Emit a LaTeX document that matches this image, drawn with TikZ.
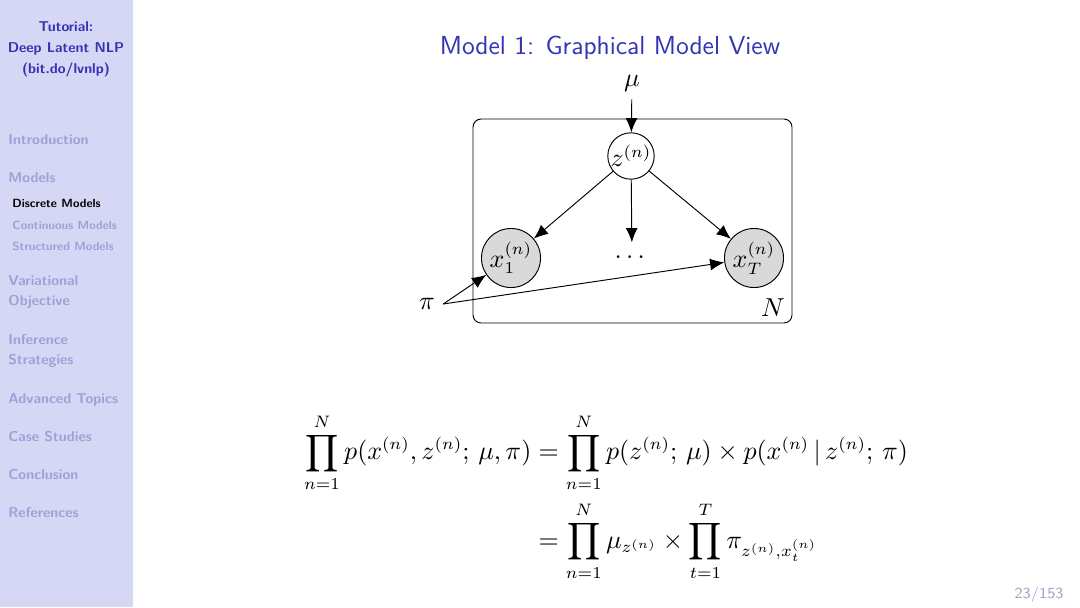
\documentclass[tikz,border=0pt]{standalone}
\usepackage{amsmath}
\usetikzlibrary{arrows.meta}

\definecolor{sidebg}{RGB}{214,214,245}
\definecolor{structblue}{RGB}{51,51,179}
\definecolor{fadeblue}{RGB}{160,160,214}
\definecolor{pagegray}{RGB}{165,165,200}
\definecolor{obsgray}{RGB}{217,217,217}

\tikzset{
  latent/.style={circle, draw, fill=white, inner sep=0pt, minimum size=17.7pt},
  observed/.style={circle, draw, fill=obsgray, inner sep=0pt, minimum size=24.9pt},
  edge/.style={-{Latex[length=6pt,width=5pt]}},
  sidehead/.style={font=\fontsize{6}{7}\selectfont\sffamily\bfseries, text=structblue},
  sidesec/.style={anchor=base west, inner sep=0pt, font=\fontsize{6}{7}\selectfont\sffamily\bfseries, text=fadeblue},
  sidesub/.style={anchor=base west, inner sep=0pt, font=\fontsize{5}{6}\selectfont\sffamily\bfseries, text=fadeblue}
}

\begin{document}
\begin{tikzpicture}[x=0.014815cm, y=-0.014815cm]
\useasboundingbox (0,0) rectangle (1080,607);
\fill[white] (0,0) rectangle (1080,607);
\fill[sidebg] (0,0) rectangle (133,607);

% sidebar
\node[sidehead, anchor=base] (tut) at (66,31) {Tutorial:};
\node[sidehead, anchor=base] (dlnlp) at (66,52) {Deep Latent NLP};
\node[sidehead, anchor=base] (link) at (66,73) {(bit.do/lvnlp)};
\node[sidesec] (intro) at (8,144) {Introduction};
\node[sidesec] (models) at (8,182) {Models};
\node[sidesub, text=black] (discrete) at (12,207) {Discrete Models};
\node[sidesub] (continuous) at (12,229) {Continuous Models};
\node[sidesub] (structured) at (12,250) {Structured Models};
\node[sidesec] (var) at (8,285) {Variational};
\node[sidesec] (obj) at (8,305) {Objective};
\node[sidesec] (inf) at (8,344) {Inference};
\node[sidesec] (strat) at (8,364) {Strategies};
\node[sidesec] (adv) at (8,403) {Advanced Topics};
\node[sidesec] (cases) at (8,441) {Case Studies};
\node[sidesec] (concl) at (8,479) {Conclusion};
\node[sidesec] (refs) at (8,517) {References};

% title
\node[anchor=base, font=\fontsize{11}{13}\selectfont\sffamily, text=structblue] (title) at (610,54) {Model 1: Graphical Model View};

% graphical model
\begin{scope}[font=\fontsize{10.5}{12}\selectfont]
\draw[rounded corners=3.4pt] (473,119) rectangle (792,323);
\node (mu) at (632,83) {$\mu$};
\node[latent] (z) at (631,156) {$z^{(n)}$};
\node[observed] (x1) at (511,258) {$x_1^{(n)}$};
\node[observed] (xT) at (754,258) {$x_T^{(n)}$};
\node[minimum height=12pt] (dots) at (632,257) {$\dots$};
\node (pi) at (427,304) {$\pi$};
\node (N) at (773,308) {$N$};
\end{scope}

\draw[edge] (mu) -- (z);
\draw[edge] (z) -- (x1);
\draw[edge] (z) -- (dots);
\draw[edge] (z) -- (xT);
\draw[edge] (pi.east) -- (x1);
\draw[edge] (pi.east) -- (xT);

% joint
\node[font=\fontsize{10.6}{12}\selectfont] (joint) at (606,497) {$\begin{aligned}
\prod_{n=1}^{N} p(x^{(n)}, z^{(n)};\, \mu, \pi) &= \prod_{n=1}^{N} p(z^{(n)};\, \mu) \times p(x^{(n)} \,|\, z^{(n)};\, \pi)\\
&= \prod_{n=1}^{N} \mu_{z^{(n)}} \times \prod_{t=1}^{T} \pi_{z^{(n)}, x_t^{(n)}}
\end{aligned}$};

\node[anchor=base east, font=\fontsize{6.5}{8}\selectfont\sffamily, text=pagegray] (page) at (1072,598) {23/153};
\end{tikzpicture}
\end{document}
